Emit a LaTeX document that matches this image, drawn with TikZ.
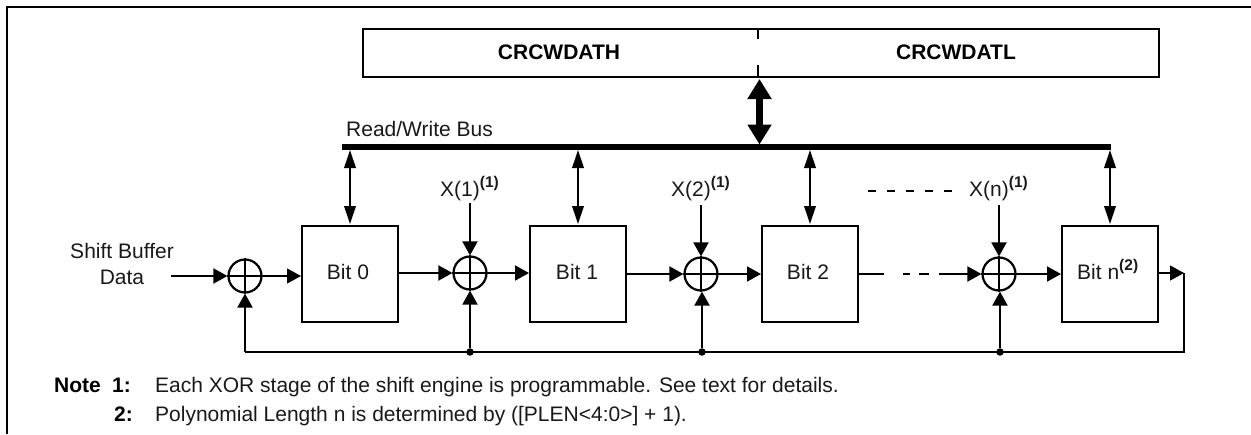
\documentclass[tikz,border=0pt]{standalone}
\usepackage{fontspec}
\setmainfont{Liberation Sans}
\usetikzlibrary{arrows.meta,calc}
\newcommand\supb[1]{\raisebox{0.42em}{\fontsize{15.5}{15.5}\selectfont\bfseries #1}}
\tikzset{
  x=1pt,y=-1pt,
  every node/.style={font=\fontsize{21}{25}\selectfont,inner sep=0pt,text=black!90},
  wire/.style={line width=2pt,draw=black},
  bitbox/.style={draw=black,line width=2pt,minimum width=96pt,minimum height=96pt,anchor=north west},
  xorgate/.style={circle,draw=black,line width=2.2pt,minimum size=33pt},
  flow/.style={wire,-{Triangle[length=14pt,width=15pt]}},
  busarrow/.style={wire,{Triangle[length=18pt,width=11.5pt]}-{Triangle[length=18pt,width=11.5pt]}},
  dot/.style={circle,fill=black,minimum size=7.5pt},
  boldlabel/.style={font=\fontsize{21}{25}\selectfont\bfseries,text=black},
  textline/.style={anchor=base west}
}
\begin{document}
\begin{tikzpicture}
\useasboundingbox (0,0) rectangle (1251,434);
% frame
\coordinate (fa) at (6.7,434);
\coordinate (fb) at (6.7,6.7);
\coordinate (fc) at (1251,6.7);
\draw[line width=2pt] (fa) -- (fb) -- (fc);
% register
\node[draw=black,line width=2pt,minimum width=796pt,minimum height=48pt,anchor=north west] (regs) at (362,28) {};
\coordinate (ta) at (758,28);
\coordinate (tb) at (758,76);
\draw[wire,dash pattern=on 11pt off 26pt on 11pt] (ta) -- (tb);
\node[boldlabel] (wh) at (559,52.5) {CRCWDATH};
\node[boldlabel] (wl) at (956,52.5) {CRCWDATL};
% bus
\node[fill=black,minimum width=769pt,minimum height=5.6pt,anchor=west] (bus) at (342,147) {};
\node[textline] (buslabel) at (346,136) {Read/Write Bus};
\coordinate (ra) at (759.5,79);
\coordinate (rb) at (759.5,144.5);
\draw[line width=6.5pt,{Triangle[length=20pt,width=23pt]}-{Triangle[length=20pt,width=23pt]}] (ra) -- (rb);
% boxes
\node[bitbox] (b0) at (301,225) {};
\node[bitbox] (b1) at (529,225) {};
\node[bitbox] (b2) at (761,225) {};
\node[bitbox] (bn) at (1061,225) {};
\node (t0) at (348,272) {Bit 0};
\node (t1) at (577,272) {Bit 1};
\node (t2) at (808,272) {Bit 2};
\node[textline] (tn) at (1077,279) {Bit n\supb{(2)}};
% xors
\node[xorgate] (x0) at (245,276) {};
\node[xorgate] (x1) at (470,273) {};
\node[xorgate] (x2) at (701,274) {};
\node[xorgate] (x3) at (999,274) {};
\foreach \g in {x0,x1,x2,x3}{
  \draw[wire] (\g.north) -- (\g.south);
  \draw[wire] (\g.west) -- (\g.east);
}
% bus connectors
\foreach \b in {b0,b1,b2,bn}{
  \draw[busarrow] (\b.north |- bus.south) -- ($(\b.north)+(0,-1)$);
}
% labels
\node[align=center] (shift) at (122,264) {Shift Buffer\\[1pt]Data};
\node[textline] (l1) at (440,196) {X(1)\supb{(1)}};
\node[textline] (l2) at (671,196) {X(2)\supb{(1)}};
\node[textline] (l3) at (969,196) {X(n)\supb{(1)}};
% feed from labels
\coordinate (d1) at (470,203);
\coordinate (d2) at (701,205);
\coordinate (d3) at (999,205);
\draw[flow] (d1) -- (x1.north);
\draw[flow] (d2) -- (x2.north);
\draw[flow] (d3) -- (x3.north);
\coordinate (ds) at (868,191);
\coordinate (de) at (955,191);
\draw[wire,dash pattern=on 8pt off 11pt] (ds) -- (de);
% horizontal flow
\coordinate (in) at (171,276);
\draw[flow] (in) -- (x0.west);
\draw[flow,line width=1.2pt] (x0.east) -- (x0.east -| b0.west);
\draw[flow] (b0.east |- x1.west) -- (x1.west);
\draw[flow] (x1.east) -- (x1.east -| b1.west);
\draw[flow] (b1.east |- x2.west) -- (x2.west);
\draw[flow] (x2.east) -- (x2.east -| b2.west);
\draw[flow,dash pattern=on 25pt off 19pt on 7pt off 9pt on 10pt off 10pt on 60pt] (b2.east |- x3.west) -- (x3.west);
\draw[flow] (x3.east) -- (x3.east -| bn.west);
% feedback
\coordinate (outp) at (1184,273);
\coordinate (fbr) at (1184,352);
\coordinate (fbl) at (245,352);
\draw[flow,line width=1.2pt] (bn.east |- outp) -- (outp);
\draw[wire] (outp) -- (fbr) -- (fbl);
\draw[flow] (fbl) -- (x0.south);
\node[dot] (j1) at (470,352) {};
\node[dot] (j2) at (702,352) {};
\node[dot] (j3) at (1000,352) {};
\draw[flow] (j1) -- (j1 |- x1.south);
\draw[flow] (j2) -- (j2 |- x2.south);
\draw[flow] (j3) -- (j3 |- x3.south);
% notes
\node[textline,boldlabel] (n0) at (54,392) {Note};
\node[textline,boldlabel] (n1) at (112,392) {1:};
\node[textline] (n1t) at (155,392) {Each XOR stage of the shift engine is programmable. See text for details.};
\node[textline,boldlabel] (n2) at (114,421) {2:};
\node[textline] (n2t) at (155,421) {Polynomial Length n is determined by ([PLEN<4:0>] + 1).};
\end{tikzpicture}
\end{document}
